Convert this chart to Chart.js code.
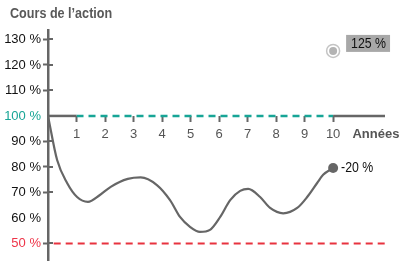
<!DOCTYPE html>
<html><head><meta charset="utf-8">
<script src="https://cdn.jsdelivr.net/npm/chart.js@4"></script>
<style>html,body{margin:0;padding:0;background:#fff}</style>
</head><body>
<canvas id="c" width="412" height="280"></canvas>
<script>
// ---- data ----
const chartTitle = "Cours de l’action";
const xAxisTitle = "Années";
const yearTicks = [1, 2, 3, 4, 5, 6, 7, 8, 9, 10];
const yTickValues = [50, 60, 70, 80, 90, 100, 110, 120, 130];
const curveYears  = [0, 0.32, 0.67, 1.02, 1.4, 1.82, 2.2, 2.8, 3.25, 3.82, 4.28, 4.63, 4.98, 5.33, 5.68, 6.04, 6.39, 6.74, 7.02, 7.44, 7.79, 8.25, 8.74, 9.09, 9.44, 9.65, 10];
const curveValues = [100, 82.7, 73.7, 68.2, 66.3, 69, 72.2, 75.3, 75.9, 72.9, 67, 60.4, 56.5, 54.5, 55.3, 60.4, 67, 70.6, 71.4, 68.2, 63.9, 61.8, 63.9, 68.2, 73.7, 76.9, 79.6];
const endYear = 10, endValue = 79.6, endLabel = "-20 %";
const targetYear = 10, targetValue = 125.5, targetLabel = "125 %";
const baseLevel = 100, floorLevel = 50;
const xMin = 0, xMax = 11.82, yMin = 43.5, yMax = 133.7;
const xTitlePos = 11.5;

const FONT = '"Liberation Sans", Arial, sans-serif';
const GRAY = '#666666', TEAL = '#17a596', RED = '#e8333f';

const pts = (xs, ys) => xs.map((x, i) => ({x, y: ys[i]}));

function narrowText(ctx, text, x, y, sx) {
  ctx.save();
  ctx.translate(x, y);
  ctx.scale(sx, 1);
  ctx.fillText(text, 0, 0);
  ctx.restore();
}

const extras = {
  id: 'extras',
  afterDatasetsDraw(chart) {
    const {ctx, scales: {x, y}} = chart;
    ctx.save();
    ctx.strokeStyle = GRAY; ctx.lineWidth = 2;
    yTickValues.forEach(v => {
      if (v === 60 || v === 100) return;
      const py = Math.round(y.getPixelForValue(v));
      ctx.beginPath(); ctx.moveTo(x.left, py); ctx.lineTo(x.left + 5, py); ctx.stroke();
    });
    ctx.font = '14px ' + FONT; ctx.fillStyle = '#111'; ctx.textBaseline = 'middle'; ctx.textAlign = 'left';
    narrowText(ctx, endLabel, x.getPixelForValue(endYear) + 8, y.getPixelForValue(endValue), 0.88);
    // target label box
    const bx = x.getPixelForValue(targetYear) + 13, by = y.getPixelForValue(targetValue) - 16;
    const tw = ctx.measureText(targetLabel).width * 0.88;
    ctx.fillStyle = '#a8a8a8';
    ctx.fillRect(bx, by, tw + 9, 17);
    ctx.fillStyle = '#111';
    narrowText(ctx, targetLabel, bx + 5, by + 9, 0.88);
    // title
    ctx.font = 'bold 15px ' + FONT; ctx.fillStyle = '#595959'; ctx.textBaseline = 'alphabetic';
    narrowText(ctx, chartTitle, 10, 18, 0.84);
    ctx.restore();
  }
};

new Chart(document.getElementById('c'), {
  type: 'line',
  data: {
    datasets: [
      { data: pts([targetYear], [targetValue]), pointRadius: 4, pointBackgroundColor: '#b3b3b3', pointBorderWidth: 0, showLine: false },
      { data: pts([targetYear], [targetValue]), pointRadius: 6.5, pointBackgroundColor: '#fff', pointBorderColor: '#c4c4c4', pointBorderWidth: 1.5, showLine: false },
      { data: pts([endYear], [endValue]), pointRadius: 5, pointBackgroundColor: GRAY, pointBorderWidth: 0, showLine: false },
      { data: pts(curveYears, curveValues), borderColor: GRAY, borderWidth: 2.2, pointRadius: 0, cubicInterpolationMode: 'monotone' },
      { data: pts([0, 1], [baseLevel, baseLevel]), borderColor: GRAY, borderWidth: 2.5, pointRadius: 0 },
      { data: pts([10, xMax], [baseLevel, baseLevel]), borderColor: GRAY, borderWidth: 2.5, pointRadius: 0 },
      { data: pts([1, 10], [baseLevel, baseLevel]), borderColor: TEAL, borderWidth: 2.5, borderDash: [7, 5], pointRadius: 0 },
      { data: pts([0.2, xMax], [floorLevel, floorLevel]), borderColor: RED, borderWidth: 2, borderDash: [7, 5], pointRadius: 0 }
    ]
  },
  options: {
    responsive: false,
    animation: false,
    devicePixelRatio: 1,
    layout: { padding: { left: 0, right: 27, top: 30, bottom: 20 } },
    plugins: { legend: { display: false }, tooltip: { enabled: false } },
    scales: {
      x: {
        type: 'linear', min: xMin, max: xMax,
        position: { y: baseLevel },
        afterBuildTicks: s => { s.ticks = yearTicks.concat([xTitlePos]).map(v => ({value: v})); },
        border: { display: false },
        grid: { drawOnChartArea: false, drawTicks: true, tickLength: 6, tickWidth: 2,
          tickColor: c => (c.tick && c.tick.value === xTitlePos) ? 'transparent' : GRAY },
        ticks: { autoSkip: false, maxRotation: 0, padding: 5, color: '#555',
          font: c => (c.tick && c.tick.value === xTitlePos) ? {family: FONT, size: 13, weight: 'bold'} : {family: FONT, size: 13},
          callback: v => v === xTitlePos ? xAxisTitle : String(v) }
      },
      y: {
        min: yMin, max: yMax,
        afterBuildTicks: s => { s.ticks = yTickValues.map(v => ({value: v})); },
        afterFit: s => { s.width = 48; },
        border: { display: true, color: GRAY, width: 2.5 },
        grid: { drawOnChartArea: false, drawTicks: true, tickLength: 5, tickWidth: 2,
          tickColor: c => (c.tick && (c.tick.value === 60 || c.tick.value === 100)) ? 'transparent' : GRAY },
        ticks: { padding: 2, font: {family: FONT, size: 13},
          color: c => c.tick.value === 100 ? TEAL : (c.tick.value === 50 ? '#ee3448' : '#111'),
          callback: v => v + ' %' }
      }
    }
  },
  plugins: [extras]
});
</script>
</body></html>
